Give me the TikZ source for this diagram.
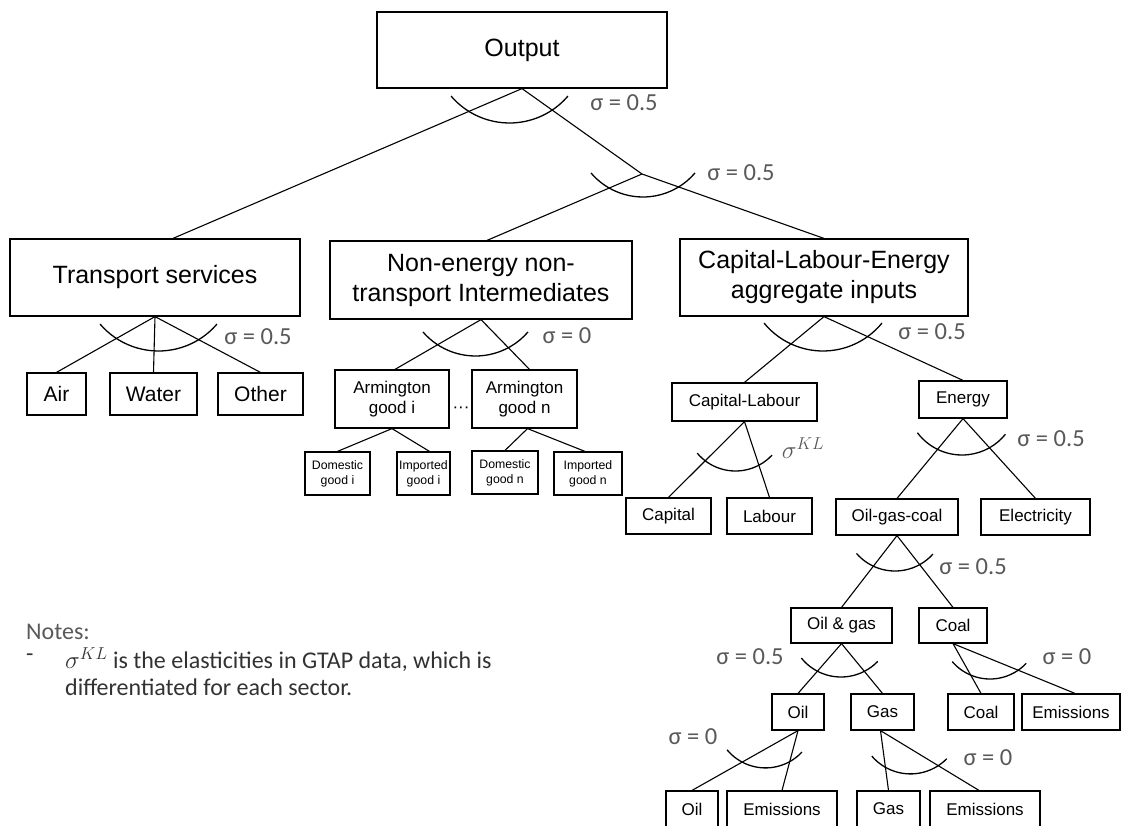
\documentclass[tikz,border=0pt]{standalone}
\usepackage{fontspec}
\setmainfont{Liberation Sans}
\newfontfamily\calibfont{Carlito}
\usepackage{xcolor}
\usepackage{tikz}
\definecolor{siggray}{RGB}{89,89,89}
\definecolor{notegray}{RGB}{50,50,50}

\begin{document}
\begin{tikzpicture}[x=1pt, y=1pt,
  box/.style={rectangle, draw=black, line width=1.2pt, inner sep=0pt, align=center, text centered},
  bigbox/.style={box, font=\fontsize{25}{30}\selectfont},
  midbox/.style={box, font=\fontsize{21}{25}\selectfont},
  smallbox/.style={box, font=\fontsize{17}{20}\selectfont},
  tinybox/.style={box, font=\fontsize{12.3}{15}\selectfont},
  link/.style={line width=1.1pt},
  nestarc/.style={line width=1.3pt},
  sig/.style={inner sep=0pt, text=siggray, font=\calibfont\fontsize{24.5}{28}\selectfont},
  note/.style={inner sep=0pt, align=left, font=\calibfont\fontsize{24}{26.5}\selectfont}
]
\useasboundingbox (0,0) rectangle (1127,-825);
\clip (0,0) rectangle (1127,-825);

% Top level
\node[bigbox, minimum width=290, minimum height=76] (out) at (522,-50) {Output};
\coordinate (mid) at (642,-174);

% Second level
\node[bigbox, minimum width=290, minimum height=77] (trans) at (155,-277.5) {Transport services};
\node[bigbox, minimum width=302, minimum height=78] (nonen) at (481,-280) {Non-energy non-\\transport Intermediates};
\node[bigbox, minimum width=288, minimum height=77] (cle) at (824,-277.5) {Capital-Labour-Energy\\aggregate inputs};

% Transport components
\node[midbox, minimum width=59, minimum height=42] (air) at (56.5,-394) {Air};
\node[midbox, minimum width=87, minimum height=42] (water) at (153.5,-394) {Water};
\node[midbox, minimum width=85, minimum height=42] (other) at (260.5,-394) {Other};

% Intermediates components
\node[smallbox, minimum width=114, minimum height=58] (armi) at (392,-399) {Armington\\good i};
\node[smallbox, minimum width=105, minimum height=58] (armn) at (524.5,-399) {Armington\\good n};
\node[inner sep=0pt, font=\fontsize{17}{20}\selectfont] (dots) at (461,-410) {···};
\node[tinybox, minimum width=65, minimum height=43] (domi) at (337.5,-473.5) {Domestic\\good i};
\node[tinybox, minimum width=53, minimum height=43] (impi) at (423.5,-473.5) {Imported\\good i};
\node[tinybox, minimum width=66, minimum height=43] (domn) at (505,-472.5) {Domestic\\good n};
\node[tinybox, minimum width=68, minimum height=43] (impn) at (588,-473.5) {Imported\\good n};

% Capital-Labour-Energy components
\node[smallbox, minimum width=145, minimum height=38] (kl) at (744.5,-402) {Capital-Labour};
\node[smallbox, minimum width=88, minimum height=37] (energy) at (963,-399.5) {Energy};
\node[smallbox, minimum width=85, minimum height=36] (capital) at (668.5,-516) {Capital};
\node[smallbox, minimum width=85, minimum height=36] (labour) at (769.5,-516) {Labour};
\node[smallbox, minimum width=122, minimum height=36] (ogc) at (897,-517) {Oil-gas-coal};
\node[smallbox, minimum width=109, minimum height=36] (elec) at (1035.5,-517) {Electricity};

% Fossil fuel components
\node[smallbox, minimum width=101, minimum height=35] (oilgas) at (841.5,-625.5) {Oil \& gas};
\node[smallbox, minimum width=68, minimum height=35] (coal) at (953,-625.5) {Coal};
\node[smallbox, minimum width=52, minimum height=36] (oil) at (798,-712) {Oil};
\node[smallbox, minimum width=63, minimum height=36] (gas) at (882.5,-712) {Gas};
\node[smallbox, minimum width=66, minimum height=36] (coalin) at (981,-712) {Coal};
\node[smallbox, minimum width=98, minimum height=36] (coalem) at (1071,-712) {Emissions};
\node[smallbox, minimum width=52, minimum height=36] (oilin) at (692,-809) {Oil};
\node[smallbox, minimum width=110, minimum height=36] (oilem) at (782,-809) {Emissions};
\node[smallbox, minimum width=63, minimum height=36] (gasin) at (888.5,-809) {Gas};
\node[smallbox, minimum width=110, minimum height=36] (gasem) at (985,-809) {Emissions};

% Connections
\draw[link] (out.south) -- ([xshift=18]trans.north);
\draw[link] (out.south) -- (mid);
\draw[link] (mid) -- ([xshift=6]nonen.north);
\draw[link] (mid) -- (cle.north);
\draw[link] (trans.south) -- (air.north);
\draw[link] (trans.south) -- (water.north);
\draw[link] (trans.south) -- (other.north);
\draw[link] (nonen.south) -- ([xshift=3]armi.north);
\draw[link] (nonen.south) -- ([xshift=5]armn.north);
\draw[link] (armi.south) -- (domi.north);
\draw[link] (armi.south) -- ([xshift=6]impi.north);
\draw[link] ([xshift=3]armn.south) -- (domn.north);
\draw[link] ([xshift=3]armn.south) -- ([xshift=-3]impn.north);
\draw[link] (cle.south) -- (kl.north);
\draw[link] (cle.south) -- (energy.north);
\draw[link] (kl.south) -- (capital.north);
\draw[link] (kl.south) -- (labour.north);
\draw[link] (energy.south) -- (ogc.north);
\draw[link] (energy.south) -- (elec.north);
\draw[link] (ogc.south) -- (oilgas.north);
\draw[link] (ogc.south) -- (coal.north);
\draw[link] (oilgas.south) -- (oil.north);
\draw[link] (oilgas.south) -- (gas.north);
\draw[link] (coal.south) -- (coalin.north);
\draw[link] (coal.south) -- ([xshift=4]coalem.north);
\draw[link] (oil.south) -- (oilin.north);
\draw[link] (oil.south) -- (oilem.north);
\draw[link] ([xshift=-2]gas.south) -- (gasin.north);
\draw[link] ([xshift=-2]gas.south) -- ([xshift=-6]gasem.north);

% Substitution arcs
\draw[nestarc] (509.5,-46.1) ++(220.5:76.9pt) arc[start angle=220.5, end angle=319.5, radius=76.9pt];
\draw[nestarc] (643,-128.7) ++(220.4:68.3pt) arc[start angle=220.4, end angle=319.6, radius=68.3pt];
\draw[nestarc] (158.5,-274.1) ++(220.5:76.9pt) arc[start angle=220.5, end angle=319.5, radius=76.9pt];
\draw[nestarc] (475.5,-286.6) ++(220.8:69.4pt) arc[start angle=220.8, end angle=319.2, radius=69.4pt];
\draw[nestarc] (823,-274.8) ++(219.3:76.2pt) arc[start angle=219.3, end angle=320.7, radius=76.2pt];
\draw[nestarc] (735.5,-421) ++(220:50pt) arc[start angle=220, end angle=317, radius=50pt];
\draw[nestarc] (962,-399.2) ++(217:55.8pt) arc[start angle=217, end angle=321, radius=55.8pt];
\draw[nestarc] (895,-520) ++(221:51pt) arc[start angle=221, end angle=318, radius=51pt];
\draw[nestarc] (841,-626) ++(219:51pt) arc[start angle=219, end angle=316, radius=51pt];
\draw[nestarc] (990,-629.3) ++(220.6:49.7pt) arc[start angle=220.6, end angle=316.8, radius=49.7pt];
\draw[nestarc] (765.5,-718) ++(219.6:49.9pt) arc[start angle=219.6, end angle=317, radius=49.9pt];
\draw[nestarc] (910.5,-723) ++(220.5:50.9pt) arc[start angle=220.5, end angle=315.4, radius=50.9pt];

% Elasticities
\node[sig] (s-out) at (624,-103) {σ = 0.5};
\node[sig] (s-mid) at (741,-173) {σ = 0.5};
\node[sig] (s-trans) at (258,-337) {σ = 0.5};
\node[sig] (s-nonen) at (567,-336) {σ = 0};
\node[sig] (s-cle) at (932,-332) {σ = 0.5};
\node[sig, font=\fontsize{25}{28}\selectfont] (s-kl) at (803,-448) {$\sigma^{KL}$};
\node[sig] (s-energy) at (1051,-439) {σ = 0.5};
\node[sig] (s-ogc) at (973,-567) {σ = 0.5};
\node[sig] (s-oilgas) at (750,-657) {σ = 0.5};
\node[sig] (s-coal) at (1067,-657) {σ = 0};
\node[sig] (s-oil) at (693,-737) {σ = 0};
\node[sig] (s-gas) at (988,-758) {σ = 0};

% Notes
\node[note, text=siggray, anchor=west] (notes) at (26,-632) {Notes:};
\node[note, text=notegray, anchor=west] (dash) at (26,-658) {-};
\node[note, text=notegray, anchor=west] (notetext) at (65,-671.5) {$\sigma^{KL}$ is the elasticities in GTAP data, which is\\differentiated for each sector.};

\end{tikzpicture}
\end{document}
